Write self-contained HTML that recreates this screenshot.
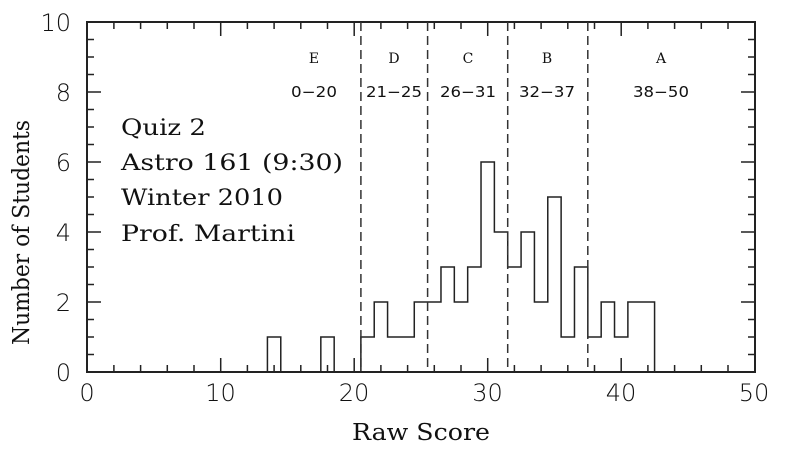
<!DOCTYPE html>
<html><head><meta charset="utf-8"><style>html,body{margin:0;padding:0;background:#fff}</style></head><body>
<svg width="797" height="457" viewBox="0 0 797 457" xmlns="http://www.w3.org/2000/svg" font-family="'DejaVu Serif', serif" fill="#111">
<g id="ticks" stroke="#222" stroke-width="1.5" fill="none"></g>
<rect x="87" y="22" width="668" height="350" fill="none" stroke="#222" stroke-width="2"/>
<path id="hist" fill="none" stroke="#222" stroke-width="1.5"/>
<g stroke="#333" stroke-width="1.5" stroke-dasharray="9,5">
<line x1="360.9" y1="22" x2="360.9" y2="372"/>
<line x1="427.6" y1="22" x2="427.6" y2="372"/>
<line x1="507.7" y1="22" x2="507.7" y2="372"/>
<line x1="587.8" y1="22" x2="587.8" y2="372"/>
</g>
<g font-size="24" text-anchor="middle" font-family="'DejaVu Sans', sans-serif" font-weight="300">
<text x="87" y="401">0</text><text x="220.5" y="401">10</text><text x="354" y="401">20</text><text x="487.5" y="401">30</text><text x="621" y="401">40</text><text x="754" y="401">50</text>
</g>
<g font-size="24" text-anchor="end" font-family="'DejaVu Sans', sans-serif" font-weight="300">
<text x="71" y="381">0</text><text x="71" y="311">2</text><text x="71" y="241">4</text><text x="71" y="171">6</text><text x="71" y="101">8</text><text x="71" y="31">10</text>
</g>
<text x="352" y="440" font-size="23" textLength="138" lengthAdjust="spacingAndGlyphs">Raw Score</text>
<text transform="translate(29,345) rotate(-90)" font-size="23" textLength="225" lengthAdjust="spacingAndGlyphs">Number of Students</text>
<g font-size="22">
<text x="121" y="135" textLength="85" lengthAdjust="spacingAndGlyphs">Quiz 2</text>
<text x="121" y="170" textLength="222" lengthAdjust="spacingAndGlyphs">Astro 161 (9:30)</text>
<text x="121" y="205" textLength="162" lengthAdjust="spacingAndGlyphs">Winter 2010</text>
<text x="121" y="241" textLength="174" lengthAdjust="spacingAndGlyphs">Prof. Martini</text>
</g>
<g font-size="14" text-anchor="middle">
<text x="314" y="63">E</text><text x="394" y="63">D</text><text x="468" y="63">C</text><text x="547" y="63">B</text><text x="661" y="63">A</text>
</g>
<g font-size="15" font-family="'DejaVu Sans', sans-serif">
<text x="291" y="97" textLength="46" lengthAdjust="spacingAndGlyphs">0−20</text>
<text x="366" y="97" textLength="56" lengthAdjust="spacingAndGlyphs">21−25</text>
<text x="440" y="97" textLength="56" lengthAdjust="spacingAndGlyphs">26−31</text>
<text x="519" y="97" textLength="56" lengthAdjust="spacingAndGlyphs">32−37</text>
<text x="633" y="97" textLength="56" lengthAdjust="spacingAndGlyphs">38−50</text>
</g>
<script>
var X=function(v){return 87.2+v*13.35},Y=function(v){return 372-v*35};
var t='';
for(var v=2;v<50;v+=2){var L=(v%10==0)?14:7;t+='M'+X(v)+' 372v-'+L+'M'+X(v)+' 22v'+L;}
for(var v=0.5;v<10;v+=0.5){var L=(v%2==0)?14:7;t+='M87 '+Y(v)+'h'+L+'M755 '+Y(v)+'h-'+L;}
var g=document.getElementById('ticks');var p=document.createElementNS('http://www.w3.org/2000/svg','path');p.setAttribute('d',t);g.appendChild(p);
var c={14:1,18:1,21:1,22:2,23:1,24:1,25:2,26:2,27:3,28:2,29:3,30:6,31:4,32:3,33:4,34:2,35:5,36:1,37:3,38:1,39:2,40:1,41:2,42:2};
var d='M'+X(0)+' '+Y(0),prev=0;
for(var k=1;k<=50;k++){var n=c[k]||0;if(n!=prev){d+='L'+X(k-0.5)+' '+Y(prev)+'L'+X(k-0.5)+' '+Y(n);prev=n;}}
d+='L'+X(50)+' '+Y(prev);
document.getElementById('hist').setAttribute('d',d);
</script>
</svg>
</body></html>
